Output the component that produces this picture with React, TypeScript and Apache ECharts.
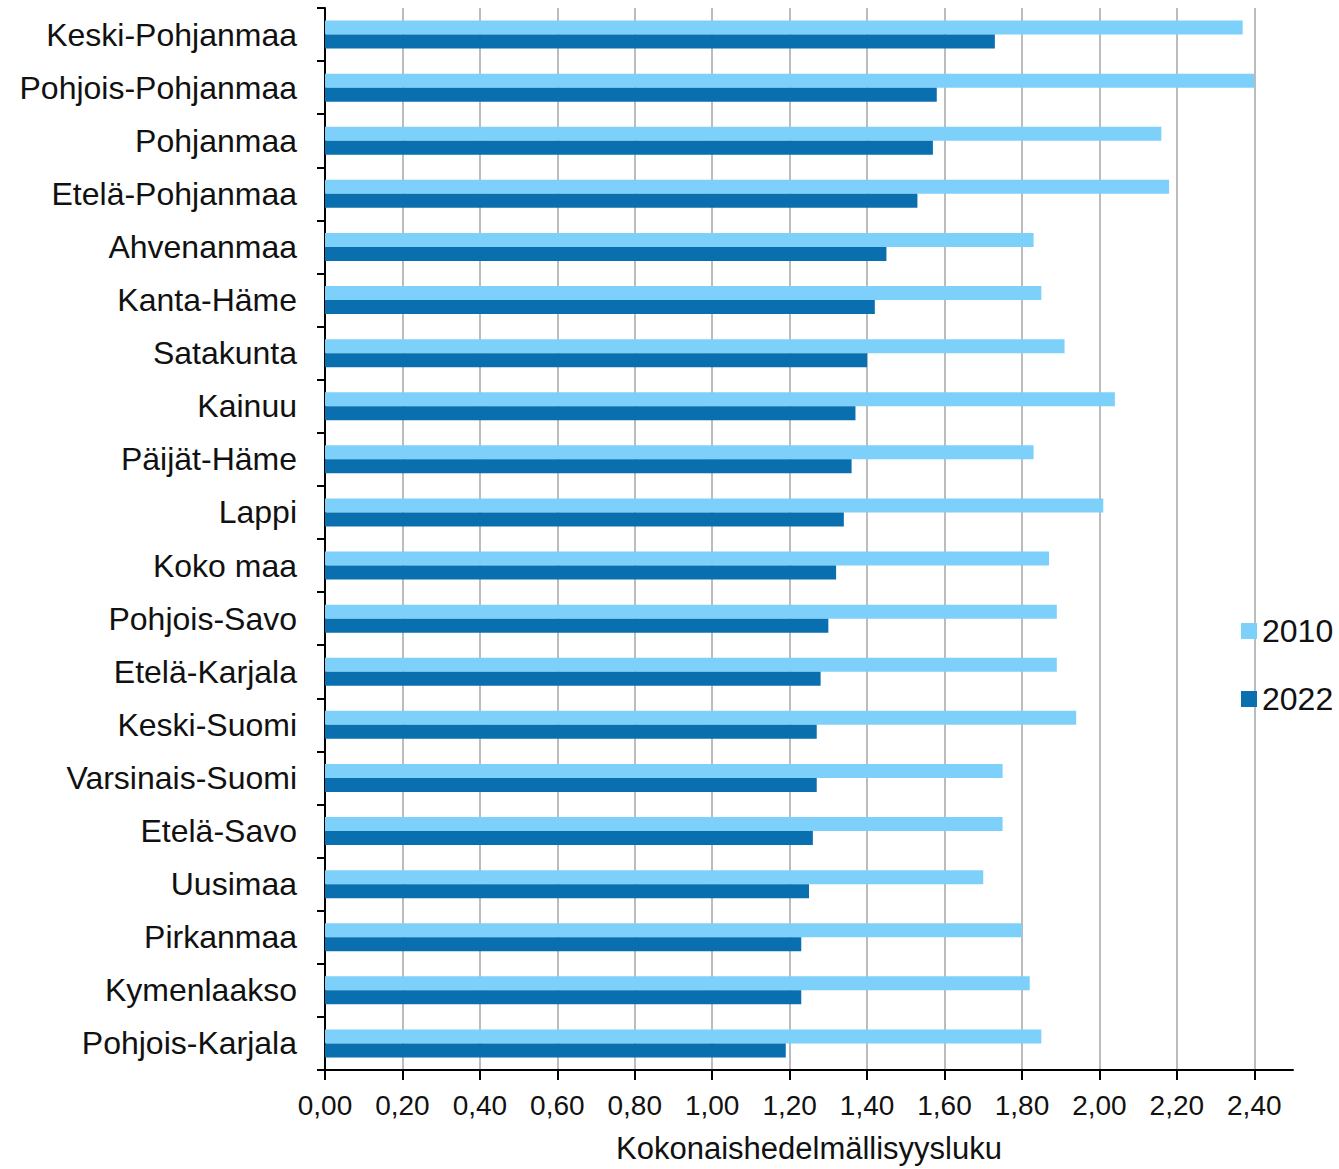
import React, { useEffect, useRef } from "react";
import * as echarts from "echarts";

const categories = [
  "Keski-Pohjanmaa",
  "Pohjois-Pohjanmaa",
  "Pohjanmaa",
  "Etelä-Pohjanmaa",
  "Ahvenanmaa",
  "Kanta-Häme",
  "Satakunta",
  "Kainuu",
  "Päijät-Häme",
  "Lappi",
  "Koko maa",
  "Pohjois-Savo",
  "Etelä-Karjala",
  "Keski-Suomi",
  "Varsinais-Suomi",
  "Etelä-Savo",
  "Uusimaa",
  "Pirkanmaa",
  "Kymenlaakso",
  "Pohjois-Karjala",
];

const values2010 = [
  2.37, 2.4, 2.16, 2.18, 1.83, 1.85, 1.91, 2.04, 1.83, 2.01,
  1.87, 1.89, 1.89, 1.94, 1.75, 1.75, 1.7, 1.8, 1.82, 1.85,
];

const values2022 = [
  1.73, 1.58, 1.57, 1.53, 1.45, 1.42, 1.4, 1.37, 1.36, 1.34,
  1.32, 1.3, 1.28, 1.27, 1.27, 1.26, 1.25, 1.23, 1.23, 1.19,
];

const tickValues = [0, 0.2, 0.4, 0.6, 0.8, 1.0, 1.2, 1.4, 1.6, 1.8, 2.0, 2.2, 2.4];

const FONT = "'Liberation Sans', Arial, sans-serif";

export default function App() {
  const ref = useRef<HTMLDivElement>(null);

  useEffect(() => {
    if (!ref.current) return;
    const chart = echarts.init(ref.current, null, { renderer: "svg" });
    chart.setOption({
      animation: false,
      backgroundColor: "#ffffff",
      textStyle: { fontFamily: FONT },
      grid: { left: 325, top: 8, width: 968, height: 1064, containLabel: false },
      legend: {
        orient: "vertical",
        left: 1236,
        top: 610,
        itemWidth: 16,
        itemHeight: 16,
        itemGap: 36,
        icon: "rect",
        data: ["2010", "2022"],
        textStyle: { fontSize: 32, color: "#111", fontFamily: FONT, lineHeight: 32, padding: [0, 0, 0, 0] },
      },
      xAxis: {
        type: "value",
        min: 0,
        max: 2.5,
        interval: 0.2,
        name: "Kokonaishedelmällisyysluku",
        nameLocation: "middle",
        nameGap: 63,
        nameTextStyle: { fontSize: 31, color: "#111", fontFamily: FONT },
        axisLine: { show: true, lineStyle: { color: "#000", width: 2 } },
        axisTick: {
          show: true,
          length: 10,
          lineStyle: { color: "#000", width: 2 },
          customValues: tickValues,
        },
        axisLabel: {
          fontSize: 28,
          color: "#111",
          fontFamily: FONT,
          margin: 21,
          customValues: tickValues,
          formatter: (v: number) => v.toFixed(2).replace(".", ","),
        },
        splitLine: { show: true, lineStyle: { color: "#a6a6a6", width: 1.5 } },
      },
      yAxis: {
        type: "category",
        data: categories,
        inverse: true,
        axisLine: { show: true, lineStyle: { color: "#000", width: 2 } },
        axisTick: { show: true, length: 8, lineStyle: { color: "#000", width: 2 } },
        axisLabel: { fontSize: 32, color: "#111", fontFamily: FONT, margin: 28 },
        splitLine: { show: false },
      },
      series: [
        {
          name: "2010",
          type: "bar",
          data: values2010,
          barWidth: 14,
          barGap: "0%",
          itemStyle: { color: "#7dd0fa" },
        },
        {
          name: "2022",
          type: "bar",
          data: values2022,
          barWidth: 14,
          barGap: "0%",
          itemStyle: { color: "#0a6fae" },
        },
      ],
    });
    return () => chart.dispose();
  }, []);

  return (
    <div
      ref={ref}
      style={{ position: "absolute", left: 0, top: 0, width: 1339, height: 1169 }}
    />
  );
}
